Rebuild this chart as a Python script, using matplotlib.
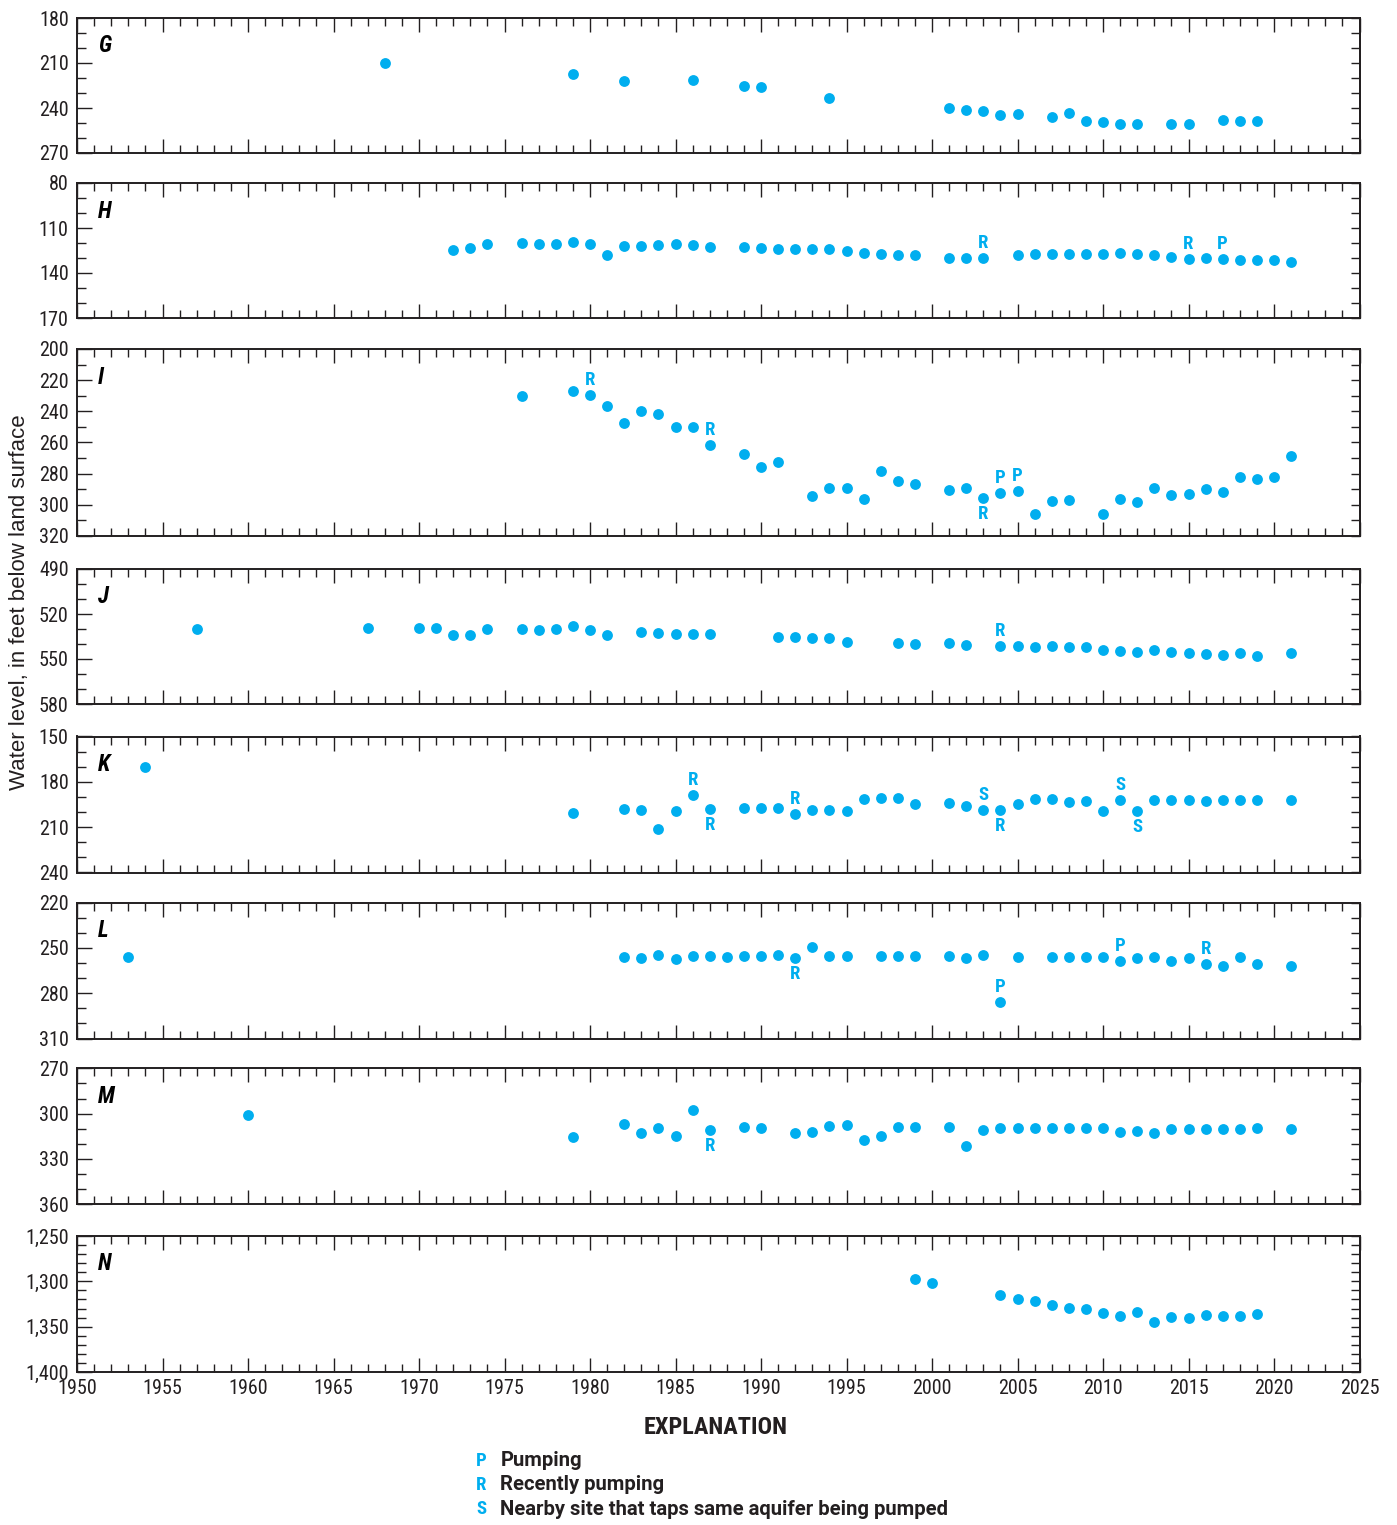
import numpy as np
import matplotlib
matplotlib.use("Agg")
import matplotlib.pyplot as plt
from matplotlib.ticker import MultipleLocator, FixedLocator, FuncFormatter

# ---------------- data ----------------
g_years = [1968, 1979, 1982, 1986, 1989, 1990, 1994, 2001, 2002, 2003, 2004, 2005,
           2007, 2008, 2009, 2010, 2011, 2012, 2014, 2015, 2017, 2018, 2019]
g_levels = [210.1, 217.2, 222.2, 221.6, 225.3, 226.2, 233.0, 239.8, 241.4, 242.3, 244.9, 244.0,
            246.2, 243.6, 248.6, 249.1, 250.4, 250.4, 250.6, 250.6, 247.9, 248.6, 248.6]

h_years = [1972, 1973, 1974, 1976, 1977, 1978, 1979, 1980, 1981, 1982, 1983, 1984, 1985, 1986,
           1987, 1989, 1990, 1991, 1992, 1993, 1994, 1995, 1996, 1997, 1998, 1999, 2001, 2002,
           2003, 2005, 2006, 2007, 2008, 2009, 2010, 2011, 2012, 2013, 2014, 2015, 2016, 2017,
           2018, 2019, 2020, 2021]
h_levels = [124.7, 123.1, 120.5, 119.8, 120.7, 120.7, 119.6, 120.7, 128.0, 121.8, 122.0, 121.4,
            120.7, 121.4, 122.5, 122.5, 123.1, 124.2, 123.8, 123.8, 124.0, 125.1, 126.4, 127.3,
            127.8, 128.2, 130.0, 130.0, 130.0, 128.0, 127.1, 127.1, 127.1, 127.1, 127.1, 126.7,
            127.1, 128.2, 129.1, 130.4, 130.0, 130.6, 131.1, 131.5, 131.3, 132.8]

i_years = [1976, 1979, 1980, 1981, 1982, 1983, 1984, 1985, 1986, 1987, 1989, 1990, 1991, 1993,
           1994, 1995, 1996, 1997, 1998, 1999, 2001, 2002, 2003, 2004, 2005, 2006, 2007, 2008,
           2010, 2011, 2012, 2013, 2014, 2015, 2016, 2017, 2018, 2019, 2020, 2021]
i_levels = [230.2, 227.2, 229.5, 236.4, 247.3, 239.8, 241.7, 249.8, 250.3, 261.8, 267.2, 275.9,
            272.3, 294.5, 289.4, 289.0, 296.3, 278.5, 284.9, 286.4, 290.7, 289.4, 295.8, 292.6,
            290.9, 305.7, 297.5, 297.1, 305.9, 296.5, 298.2, 289.4, 293.7, 293.0, 290.1, 291.6,
            281.9, 283.6, 282.4, 268.7]

j_years = [1957, 1967, 1970, 1971, 1972, 1973, 1974, 1976, 1977, 1978, 1979, 1980, 1981, 1983,
           1984, 1985, 1986, 1987, 1991, 1992, 1993, 1994, 1995, 1998, 1999, 2001, 2002, 2004,
           2005, 2006, 2007, 2008, 2009, 2010, 2011, 2012, 2013, 2014, 2015, 2016, 2017, 2018,
           2019, 2021]
j_levels = [530.0, 529.4, 529.4, 529.1, 534.0, 534.2, 529.8, 529.8, 530.5, 529.8, 528.3, 530.7,
            534.2, 532.2, 532.7, 533.6, 533.3, 533.6, 535.3, 535.3, 536.2, 536.2, 538.7, 539.5,
            540.0, 539.5, 540.6, 541.1, 541.1, 541.7, 541.5, 542.2, 542.0, 543.7, 544.6, 545.3,
            544.2, 545.1, 546.0, 546.8, 547.5, 545.7, 547.9, 546.2]

k_years = [1954, 1979, 1982, 1983, 1984, 1985, 1986, 1987, 1989, 1990, 1991, 1992, 1993, 1994,
           1995, 1996, 1997, 1998, 1999, 2001, 2002, 2003, 2004, 2005, 2006, 2007, 2008, 2009,
           2010, 2011, 2012, 2013, 2014, 2015, 2016, 2017, 2018, 2019, 2021]
k_levels = [170.1, 200.5, 198.1, 198.8, 211.3, 199.6, 188.6, 198.1, 197.6, 197.6, 197.6, 201.2,
            198.5, 198.5, 199.4, 191.3, 190.8, 190.8, 194.8, 193.7, 195.7, 198.8, 198.8, 194.8,
            191.5, 191.5, 193.5, 192.8, 199.0, 191.7, 199.0, 191.7, 191.7, 191.7, 192.4, 192.1,
            191.9, 192.1, 191.7]

l_years = [1953, 1982, 1983, 1984, 1985, 1986, 1987, 1988, 1989, 1990, 1991, 1992, 1993, 1994,
           1995, 1997, 1998, 1999, 2001, 2002, 2003, 2004, 2005, 2007, 2008, 2009, 2010, 2011,
           2012, 2013, 2014, 2015, 2016, 2017, 2018, 2019, 2021]
l_levels = [256.2, 256.2, 256.6, 254.9, 257.5, 255.7, 255.1, 256.2, 255.7, 255.1, 254.6, 256.4,
            249.6, 255.7, 255.7, 255.1, 255.1, 255.7, 255.1, 256.4, 254.6, 285.7, 256.2, 256.2,
            256.2, 256.2, 256.2, 258.4, 256.6, 256.2, 258.4, 256.6, 260.4, 261.7, 256.2, 260.8,
            261.7]

m_years = [1960, 1979, 1982, 1983, 1984, 1985, 1986, 1987, 1989, 1990, 1992, 1993, 1994, 1995,
           1996, 1997, 1998, 1999, 2001, 2002, 2003, 2004, 2005, 2006, 2007, 2008, 2009, 2010,
           2011, 2012, 2013, 2014, 2015, 2016, 2017, 2018, 2019, 2021]
m_levels = [300.7, 315.7, 306.8, 313.0, 309.5, 314.8, 297.8, 310.6, 308.8, 309.7, 312.6, 311.9,
            307.9, 307.7, 317.2, 314.6, 308.6, 309.0, 308.8, 321.2, 310.8, 309.5, 309.5, 309.5,
            309.5, 309.5, 309.7, 309.7, 312.4, 311.7, 312.6, 310.2, 310.2, 310.2, 310.4, 310.2,
            309.7, 310.4]

n_years = [1999, 2000, 2004, 2005, 2006, 2007, 2008, 2009, 2010, 2011, 2012, 2013, 2014, 2015,
           2016, 2017, 2018, 2019]
n_levels = [1297.1, 1301.5, 1314.7, 1319.5, 1321.7, 1326.1, 1329.4, 1330.9, 1335.3, 1338.2,
            1333.8, 1344.5, 1339.7, 1340.4, 1337.5, 1338.6, 1337.9, 1335.7]

# annotation codes: (year, letter, side)
h_notes = [(2003, "R", "above"), (2015, "R", "above"), (2017, "P", "above")]
i_notes = [(1980, "R", "above"), (1987, "R", "above"), (2003, "R", "below"),
           (2004, "P", "above"), (2005, "P", "above")]
j_notes = [(2004, "R", "above")]
k_notes = [(1986, "R", "above"), (1987, "R", "below"), (1992, "R", "above"),
           (2003, "S", "above"), (2004, "R", "below"), (2011, "S", "above"),
           (2012, "S", "below")]
l_notes = [(1992, "R", "below"), (2004, "P", "above"), (2011, "P", "above"),
           (2016, "R", "above")]
m_notes = [(1987, "R", "below")]

panel_names = ["G", "H", "I", "J", "K", "L", "M", "N"]
y_ranges = [(180, 270), (80, 170), (200, 320), (490, 580), (150, 240), (220, 310),
            (270, 360), (1250, 1400)]
y_major_steps = [30, 30, 20, 30, 30, 30, 30, 50]
x_range = (1950, 2025)

legend_codes = ["P", "R", "S"]
legend_texts = ["Pumping", "Recently pumping", "Nearby site that taps same aquifer being pumped"]

# ---------------- style ----------------
W, H = 1397, 1525
DPI = 100
PX = 72.0 / DPI  # points per pixel
CYAN = "#00AEEF"
INK = "#231F20"
NARROW = ["Roboto Condensed", "Fira Sans Condensed", "Archivo Narrow", "DejaVu Sans"]
WIDE_BOLD = ["Roboto", "Liberation Sans", "DejaVu Sans"]
REGULAR = ["Liberation Sans", "DejaVu Sans"]

series = list(zip(panel_names,
                  [g_years, h_years, i_years, j_years, k_years, l_years, m_years, n_years],
                  [g_levels, h_levels, i_levels, j_levels, k_levels, l_levels, m_levels, n_levels],
                  [[], h_notes, i_notes, j_notes, k_notes, l_notes, m_notes, []]))

panel_px = [(18, 153), (183, 318), (349, 536), (569, 704), (736.5, 872.5),
            (902.5, 1038.5), (1068.3, 1204.3), (1236, 1372)]
left_px, right_px = 77, 1359.5

fig = plt.figure(figsize=(W / DPI, H / DPI), dpi=DPI)

for idx, ((name, yrs, lv, notes), (ptop, pbot), (ylo, yhi), ystep) in enumerate(
        zip(series, panel_px, y_ranges, y_major_steps)):
    ax = fig.add_axes([left_px / W, 1 - pbot / H, (right_px - left_px) / W, (pbot - ptop) / H])
    ax.plot(yrs, lv, linestyle="none", marker="o", ms=7.8, mfc=CYAN, mec="none", zorder=3,
            clip_on=False)
    ax.set_xlim(*x_range)
    ax.set_ylim(yhi, ylo)
    for sp in ax.spines.values():
        sp.set_linewidth(1.4)
        sp.set_color(INK)

    ax.xaxis.set_major_locator(MultipleLocator(5))
    ax.xaxis.set_minor_locator(MultipleLocator(1))
    ax.yaxis.set_major_locator(FixedLocator(np.arange(ylo, yhi + 1, ystep)))
    ax.yaxis.set_minor_locator(FixedLocator(np.arange(ylo, yhi + 1, 10)))
    ax.tick_params(axis="x", which="major", direction="in", length=14 * PX, width=1.0,
                   color=INK, top=True, bottom=True, pad=5)
    ax.tick_params(axis="x", which="minor", direction="in", length=8 * PX, width=1.0,
                   color=INK, top=True, bottom=True)
    ax.tick_params(axis="y", which="major", direction="in", length=15 * PX, width=1.0,
                   color=INK, left=True, right=False, pad=6)
    ax.tick_params(axis="y", which="minor", direction="in", length=9 * PX, width=1.0,
                   color=INK, left=True, right=False)
    ax.yaxis.set_major_formatter(FuncFormatter(lambda v, p: f"{int(round(v)):,}"))
    for lab in ax.get_yticklabels():
        lab.set_fontfamily(NARROW)
        lab.set_fontsize(14.5)
        lab.set_color(INK)
    if idx == len(series) - 1:
        ax.xaxis.set_major_formatter(FuncFormatter(lambda v, p: f"{int(round(v))}"))
        for lab in ax.get_xticklabels():
            lab.set_fontfamily(NARROW)
            lab.set_fontsize(14.5)
            lab.set_color(INK)
    else:
        ax.tick_params(axis="x", labelbottom=False)

    # right-side ticks (short, every 10)
    sec = ax.secondary_yaxis("right")
    sec.yaxis.set_major_locator(FixedLocator(np.arange(ylo, yhi + 1, 10)))
    sec.tick_params(axis="y", which="major", direction="in", length=9 * PX, width=1.0,
                    color=INK, labelright=False)
    sec.tick_params(axis="y", which="minor", length=0)
    for sp in sec.spines.values():
        sp.set_linewidth(1.4)
        sp.set_color(INK)

    # panel label
    ax.annotate(name, xy=(0, 1), xycoords="axes fraction", xytext=(21 * PX, -28 * PX),
                textcoords="offset points", ha="left", va="center", fontsize=16.5,
                fontweight="bold", fontstyle="italic", family=NARROW, color="black")

    # annotation letters
    lookup = dict(zip(yrs, lv))
    for yr, letter, side in notes:
        dy = 15 * PX if side == "above" else -16 * PX
        ax.annotate(letter, xy=(yr, lookup[yr]), xytext=(0, dy), textcoords="offset points",
                    ha="center", va="center", fontsize=13.5, fontweight="bold",
                    family=NARROW, color=CYAN, annotation_clip=False)

# y-axis label
fig.text(20 / W, 1 - 602 / H, "Water level, in feet below land surface", rotation=90,
         ha="center", va="center", fontsize=16, family=REGULAR, color=INK)

# explanation
fig.text(716 / W, 1 - 1428 / H, "EXPLANATION", ha="center", va="center", fontsize=17.5,
         fontweight="bold", family=NARROW, color=INK)
for k, (code, txt) in enumerate(zip(legend_codes, legend_texts)):
    yy = 1 - (1460.7 + 24.3 * k) / H
    fig.text(481 / W, yy, code, ha="center", va="center", fontsize=13.5, fontweight="bold",
             family=NARROW, color=CYAN)
    fig.text(500.5 / W, yy, txt, ha="left", va="center", fontsize=14.6, fontweight="bold",
             family=WIDE_BOLD, color=INK)

fig.savefig("out.png", dpi=DPI)
